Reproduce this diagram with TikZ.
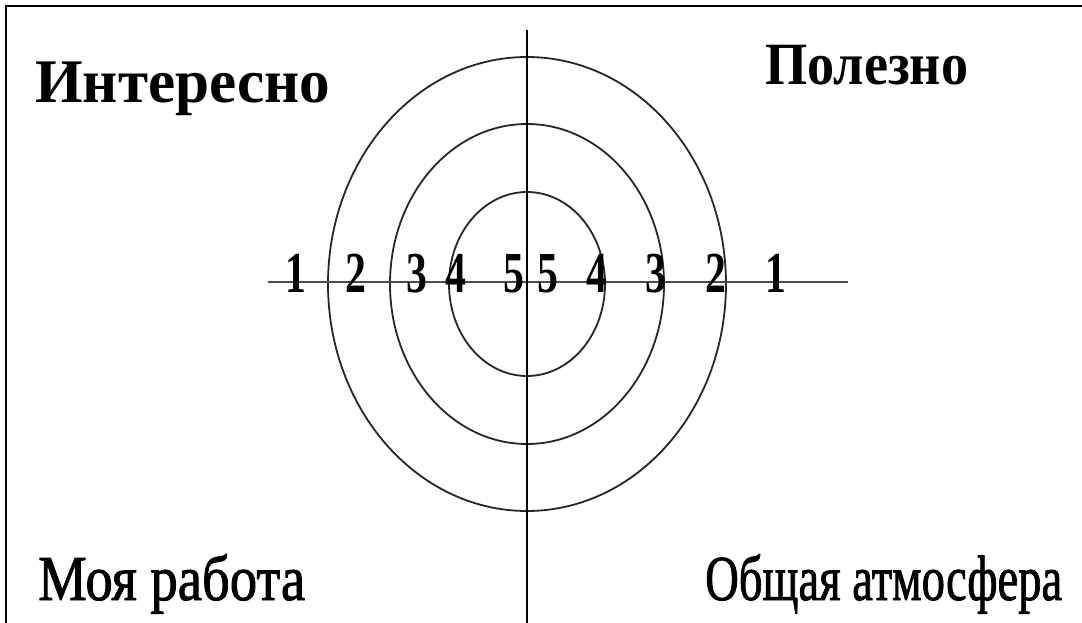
\documentclass[tikz,border=0pt]{standalone}
\usepackage{fontspec}
\usepackage{graphicx}
\setmainfont{Liberation Serif}
\newfontfamily\heavyserif{Liberation Serif}[FakeBold=1.2]
\newfontfamily\midserif{Liberation Serif}[FakeBold=1.5]
\newcommand\dgbox[1]{\scalebox{0.72}[1]{#1}}
\newcommand\lbl[3]{\resizebox{#1}{\height}{\fontsize{#2}{#2}\selectfont #3}}
\tikzset{
  frameline/.style={line width=2.5pt, black},
  axis/.style={line width=2pt, black},
  haxis/.style={line width=2.5pt, black!70},
  ring/.style={line width=1.8pt, black!85},
  digit/.style={anchor=base, inner sep=0pt, font=\fontsize{58}{58}\selectfont\bfseries},
  label/.style={anchor=base west, inner sep=0pt},
}
\begin{document}
\begin{tikzpicture}[x=1pt,y=-1pt]
\useasboundingbox (0,0) rectangle (1082,623);
\fill[white] (0,0) rectangle (1082,623);
% frame (top and left edges)
\coordinate (fbl) at (6,623);
\coordinate (ftl) at (6,6);
\coordinate (ftr) at (1082,6);
\draw[frameline] (fbl) -- (ftl) -- (ftr);
% centre and axes
\coordinate (c) at (527,284);
\coordinate (vtop) at (527,30);
\coordinate (vbot) at (527,623);
\coordinate (hl) at (268,282);
\coordinate (hr) at (848,282);
\draw[ring] (c) ellipse [x radius=199, y radius=227];
\draw[ring] (c) ellipse [x radius=137, y radius=160];
\draw[ring] (c) ellipse [x radius=78, y radius=92];
\draw[haxis] (hl) -- (hr);
\draw[axis] (vtop) -- (vbot);
% digits
\foreach \x/\d [count=\i] in {296/1,356/2,417/3,456/4,514/5,548/5,597/4,656/3,716/2,776/1}
  \node[digit] (d\i) at (\x,292) {\dgbox{\d}};
% labels
\node[label] (interesno) at (35,103) {\lbl{295pt}{62}{\bfseries Интересно}};
\node[label] (polezno) at (765,85) {\lbl{203pt}{60}{\bfseries Полезно}};
\node[label] (rabota) at (38,600) {\lbl{267pt}{64}{\midserif Моя работа}};
\node[label] (atmos) at (705,600) {\lbl{357pt}{64}{\midserif Общая атмосфера}};
\end{tikzpicture}
\end{document}
